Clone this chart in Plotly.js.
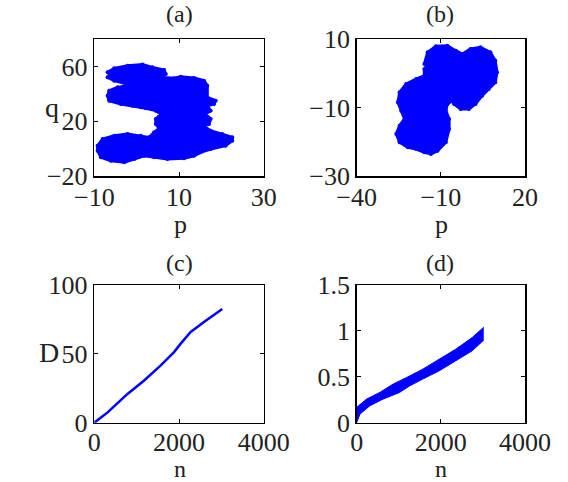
<!DOCTYPE html>
<html>
<head>
<meta charset="utf-8">
<script src="https://cdn.plot.ly/plotly-3.0.1.min.js"></script>
<style>html,body{margin:0;padding:0;background:#fff;}#chart{width:568px;height:482px;}</style>
</head>
<body>
<div id="chart"></div>
<script>
// (a) outline of the p-q point cloud
const cloudA_p = [-6.86,-5.29,-2.16,1.37,3.73,6.47,6.86,5.69,8.82,10.39,13.53,15.88,16.67,16.67,18.63,18.24,16.67,17.45,16.27,17.45,17.06,15.88,17.45,20.2,22.55,22.55,20.98,17.45,15.1,13.53,11.18,7.25,4.12,1.76,-0.59,-2.94,-6.08,-8.43,-9.22,-9.22,-8.04,-5.29,-2.16,0.98,2.94,4.12,5.29,4.51,4.51,5.69,4.51,2.16,0.98,-0.98,-3.73,-6.47,-6.86,-6.47,-4.51,-1.37,-2.94,-5.29,-6.86];
const cloudA_q = [55.7,58.6,60.5,61.3,59.3,57.4,54.5,52.0,51.3,52.5,51.5,49.6,45.9,37.4,35.0,32.6,31.3,27.7,25.3,21.6,18.0,16.3,13.1,10.7,8.2,5.8,2.1,-0.3,-2.7,-5.2,-7.1,-7.6,-6.4,-5.2,-7.6,-10.0,-8.8,-6.4,-1.5,2.1,7.0,9.4,10.7,9.4,8.2,11.9,14.8,18.0,21.6,25.3,27.7,29.4,30.1,31.3,32.6,35.0,38.6,42.3,44.7,46.4,47.9,49.6,52.0];
// (b) outline of the p-q point cloud
const cloudB_p = [-15.88,-14.71,-11.76,-7.65,-4.71,-2.35,0.59,4.12,7.65,9.41,10.0,9.41,7.06,4.71,2.35,0.0,-2.94,-5.29,-5.88,-7.65,-8.24,-7.06,-7.06,-8.24,-11.18,-13.53,-15.88,-18.82,-21.76,-24.71,-25.88,-24.71,-22.94,-24.12,-25.29,-24.71,-22.35,-18.82,-15.88,-15.88];
const cloudB_q = [2.70,6.11,7.86,8.05,6.59,5.62,7.08,7.57,6.11,3.67,0.27,-2.65,-4.60,-6.55,-8.98,-10.44,-10.44,-8.98,-8.00,-8.98,-10.92,-13.36,-16.28,-20.17,-22.60,-23.58,-23.09,-22.12,-21.63,-20.17,-17.74,-15.30,-13.36,-10.92,-8.49,-5.57,-3.14,-1.68,-0.71,1.24];
// (c) D versus n
const c_n = [0,314,784,1176,1569,1882,2039,2275,2588,3020];
const c_D = [0,7.5,20.9,30.7,41.6,51.3,57.4,65.9,73.2,82.5];
// (d) D versus n: lower and upper envelope of the band
const d_nLow = [0,78,314,627,1020,1255,1569,1961,2353,2745,3020];
const d_DLow = [0,0.094,0.185,0.257,0.33,0.40,0.475,0.565,0.674,0.783,0.90];
const d_nUp = [0,235,549,863,1176,1569,1961,2353,2745,3020];
const d_DUp = [0.167,0.257,0.33,0.42,0.49,0.583,0.692,0.80,0.928,1.04];

const blue = 'rgb(0,0,255)';
const family = 'Liberation Serif';
const W = 568, H = 482;
const px = v => v / W, py = v => 1 - v / H;

const traces = [
  {x: cloudA_p, y: cloudA_q, xaxis: 'x', yaxis: 'y', type: 'scatter', mode: 'lines+markers', fill: 'toself',
   fillcolor: blue, line: {color: blue, width: 3}, marker: {color: blue, size: 4}, hoverinfo: 'skip'},
  {x: cloudB_p, y: cloudB_q, xaxis: 'x2', yaxis: 'y2', type: 'scatter', mode: 'lines+markers', fill: 'toself',
   fillcolor: blue, line: {color: blue, width: 3}, marker: {color: blue, size: 4}, hoverinfo: 'skip'},
  {x: c_n, y: c_D, xaxis: 'x3', yaxis: 'y3', type: 'scatter', mode: 'lines',
   line: {color: blue, width: 2.5}},
  {x: d_nLow, y: d_DLow, xaxis: 'x4', yaxis: 'y4', type: 'scatter', mode: 'lines',
   line: {color: blue, width: 1}},
  {x: d_nUp, y: d_DUp, xaxis: 'x4', yaxis: 'y4', type: 'scatter', mode: 'lines', fill: 'tonexty',
   fillcolor: blue, line: {color: blue, width: 1}}
];

function ax(domain, range, tickvals, anchor, standoff) {
  const a = {domain: domain, range: range, tickvals: tickvals, anchor: anchor,
    showline: true, linecolor: 'black', linewidth: 1.5, mirror: 'allticks',
    ticks: 'inside', ticklen: 4, tickcolor: 'black', tickwidth: 1,
    showgrid: false, zeroline: false, tickfont: {family: family, size: 26, color: '#222'}};
  if (standoff !== undefined) a.ticklabelstandoff = standoff;
  return a;
}

const xa1 = [px(94.3), px(263.8)], xa2 = [px(356.7), px(525)];
const ya1 = [py(176), py(39)], ya2 = [py(422.7), py(285)];

const layout = {
  width: W, height: H, showlegend: false,
  margin: {l: 0, r: 0, t: 0, b: 0},
  paper_bgcolor: 'white', plot_bgcolor: 'white',
  xaxis: ax(xa1, [-10, 30], [-10, 10, 30], 'y', -3),
  yaxis: ax(ya1, [-20, 80], [-20, 20, 60], 'x'),
  xaxis2: ax(xa2, [-40, 20], [-40, -10, 20], 'y2', -3),
  yaxis2: ax(ya1, [-30, 10], [-30, -10, 10], 'x2'),
  xaxis3: ax(xa1, [0, 4000], [0, 2000, 4000], 'y3', -4),
  yaxis3: ax(ya2, [0, 100], [0, 50, 100], 'x3'),
  xaxis4: ax(xa2, [0, 4000], [0, 2000, 4000], 'y4', -4),
  yaxis4: ax(ya2, [0, 1.5], [0, 0.5, 1, 1.5], 'x4'),
  annotations: [
    {text: '(a)', x: px(179), y: py(14), size: 24},
    {text: '(b)', x: px(440), y: py(14), size: 24},
    {text: '(c)', x: px(179), y: py(263), size: 24},
    {text: '(d)', x: px(440), y: py(263), size: 24},
    {text: 'q', x: px(52), y: py(107), size: 28},
    {text: 'p', x: px(180), y: py(224), size: 26},
    {text: 'p', x: px(441), y: py(224), size: 26},
    {text: 'D', x: px(49), y: py(352), size: 28},
    {text: 'n', x: px(180), y: py(468.5), size: 24},
    {text: 'n', x: px(441), y: py(468.5), size: 24}
  ].map(a => ({text: a.text, x: a.x, y: a.y, xref: 'paper', yref: 'paper', showarrow: false,
     xanchor: 'center', yanchor: 'middle', font: {family: family, size: a.size, color: '#222'}}))
};

Plotly.newPlot('chart', traces, layout, {staticPlot: true, displayModeBar: false});
</script>
</body>
</html>
